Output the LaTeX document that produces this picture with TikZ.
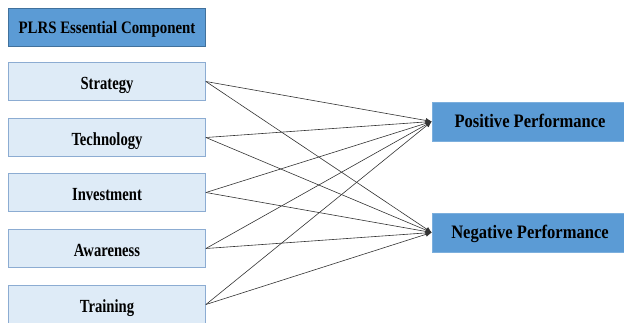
\documentclass[tikz,border=0pt]{standalone}
\usepackage{fontspec}
\setmainfont{Liberation Serif}
\newfontfamily\headfont[FakeStretch=0.85]{Liberation Serif}
\newfontfamily\compfont[FakeStretch=0.79]{Liberation Serif}
\newfontfamily\perffont[FakeStretch=0.87]{Liberation Serif}
\usetikzlibrary{arrows.meta}
\definecolor{headblue}{RGB}{91,155,213}
\definecolor{headedge}{RGB}{65,113,156}
\definecolor{paleblue}{RGB}{222,235,247}
\definecolor{paleedge}{RGB}{140,172,210}
\begin{document}
\begin{tikzpicture}[x=1pt, y=-1pt,
    headbox/.style={draw=headedge, fill=headblue, line width=0.8pt, minimum width=197pt, minimum height=38pt, inner sep=0pt, text height=12.6pt, text depth=0pt, font=\headfont\fontsize{17.5}{19}\selectfont\bfseries},
    compbox/.style={draw=paleedge, fill=paleblue, line width=0.8pt, minimum width=197pt, minimum height=38pt, inner sep=0pt, text height=15pt, text depth=0pt, font=\compfont\fontsize{18.5}{20}\selectfont\bfseries},
    perfbox/.style={draw=headblue!80!white, fill=headblue, line width=0.6pt, minimum width=196pt, minimum height=39pt, inner sep=0pt, text height=12.4pt, text depth=0pt, font=\perffont\fontsize{19}{21}\selectfont\bfseries},
    link/.style={draw=black!80, line width=0.6pt, -{Latex[length=6pt, width=5pt]}}]
  \useasboundingbox (0,0) rectangle (624,322);

  % left column: components
  \node[headbox] (header) at (107,27) {PLRS Essential Component};
  \node[compbox] (strat)  at (107,81.5)  {Strategy};
  \node[compbox] (tech)   at (107,137.5) {Technology};
  \node[compbox] (invest) at (107,192.5) {Investment};
  \node[compbox] (aware)  at (107,248.5) {Awareness};
  \node[compbox] (train)  at (107,304.5) {Training};

  % right column: outcomes
  \node[perfbox] (pos) at (530,121.5) {Positive Performance};
  \node[perfbox] (neg) at (530,232.5) {Negative Performance};

  % every component feeds both outcomes
  \foreach \src in {strat, tech, invest, aware, train} {
    \draw[link] (\src.east) -- (pos.west);
    \draw[link] (\src.east) -- (neg.west);
  }
\end{tikzpicture}
\end{document}
